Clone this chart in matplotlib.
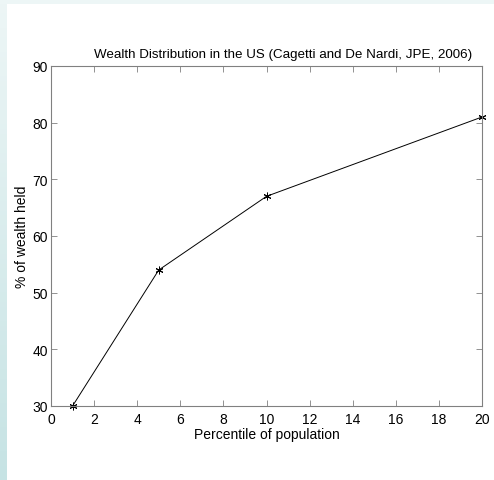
import numpy as np
import matplotlib
matplotlib.use('Agg')
import matplotlib.pyplot as plt

plt.rcParams['font.family'] = ['Liberation Sans', 'DejaVu Sans']

percentile = [1, 5, 10, 20]
wealth_share = [30, 54, 67, 81]
x_ticks = [0, 2, 4, 6, 8, 10, 12, 14, 16, 18, 20]
y_ticks = [30, 40, 50, 60, 70, 80, 90]

fig = plt.figure(figsize=(4.94, 4.81), dpi=100, facecolor='white')

# slide-style light cyan border on the left and top
top_ax = fig.add_axes([0, 1 - 5 / 481, 1, 5 / 481])
top_ax.imshow([[0, 0]], cmap=matplotlib.colors.ListedColormap(['#edf6f6']), aspect='auto')
top_ax.axis('off')
left_ax = fig.add_axes([0, 0, 6 / 494, 1])
grad = np.linspace(0, 1, 100).reshape(-1, 1)
cmap = matplotlib.colors.LinearSegmentedColormap.from_list('edge', ['#edf6f6', '#c6e3e4'])
left_ax.imshow(grad, cmap=cmap, aspect='auto')
left_ax.axis('off')

ax = fig.add_axes([51 / 494, 1 - 407 / 481, 431 / 494, 340 / 481])
ax.plot(percentile, wealth_share, color='black', linewidth=0.7,
        marker=(6, 2, 0), markersize=5.5, markeredgewidth=0.7, clip_on=False)

ax.set_xlim(0, 20)
ax.set_ylim(30, 90)
ax.set_xticks(x_ticks)
ax.set_yticks(y_ticks)
ax.tick_params(direction='in', top=True, right=True, length=4, width=0.6,
               color='#808080', labelsize=10)
ax.tick_params(axis='x', pad=4)
ax.tick_params(axis='y', pad=2)
for s in ax.spines.values():
    s.set_color('#808080')
    s.set_linewidth(0.8)

# title sits a bit right of centre in the original
fig.text(283 / 494, 1 - 55 / 481,
         'Wealth Distribution in the US (Cagetti and De Nardi, JPE, 2006)',
         fontsize=9.6, ha='center', va='center')
ax.set_xlabel('Percentile of population', fontsize=10, labelpad=1)
ax.set_ylabel('% of wealth held', fontsize=10, labelpad=3)

fig.savefig('out.png', dpi=100, facecolor='white')
